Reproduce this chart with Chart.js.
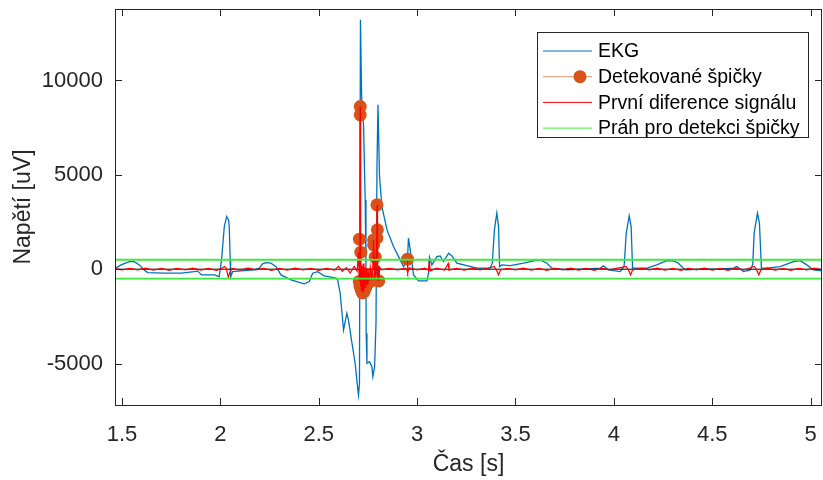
<!DOCTYPE html>
<html>
<head>
<meta charset="utf-8">
<script src="https://cdn.jsdelivr.net/npm/chart.js@4.4.0/dist/chart.umd.min.js"></script>
<style>
  html, body { margin: 0; padding: 0; background: #fff; }
</style>
</head>
<body>
<canvas id="graf" width="823" height="480"></canvas>
<script>
// EKG signal (time in s, voltage in uV)
const ekgTime = [1.461,1.495,1.537,1.562,1.588,1.613,1.630,1.715,1.800,1.867,
  1.884,1.904,1.969,1.994,2.006,2.020,2.032,2.042,2.045,2.050,
  2.052,2.062,2.105,2.172,2.198,2.214,2.232,2.257,2.283,2.308,
  2.359,2.426,2.452,2.469,2.494,2.528,2.562,2.587,2.596,2.609,
  2.626,2.643,2.651,2.669,2.685,2.697,2.702,2.707,2.712,2.718,
  2.728,2.736,2.740,2.741,2.745,2.758,2.770,2.775,2.784,2.791,
  2.796,2.801,2.809,2.821,2.847,2.880,2.914,2.931,2.951,2.956,
  2.965,2.982,3.007,3.050,3.058,3.063,3.075,3.101,3.117,3.134,
  3.160,3.177,3.202,3.253,3.304,3.371,3.382,3.393,3.405,3.414,
  3.419,3.431,3.473,3.541,3.592,3.626,3.660,3.685,3.761,3.863,
  3.930,3.947,3.973,4.032,4.052,4.063,4.078,4.088,4.095,4.117,
  4.168,4.218,4.269,4.303,4.328,4.362,4.438,4.523,4.608,4.625,
  4.659,4.693,4.706,4.713,4.730,4.740,4.750,4.777,4.845,4.913,
  4.947,4.981,5.014,5.063];
const ekgValue = [20,228,403,403,228,-37,-180,-212,-212,-127,
  -90,-302,-302,-392,493,2259,2789,2600,2259,493,
  -424,-127,-90,-37,53,281,350,318,138,-302,
  -567,-779,-657,-212,-127,-355,-424,-477,-567,-1273,
  -3218,-2333,-2688,-3923,-4984,-6224,-6665,-6044,13218,9151,
  7560,3674,138,-3393,-4984,-4899,-5164,-5694,-5164,-2863,
  5440,8711,4910,3319,2084,1198,493,138,493,1643,
  1023,-302,-620,-620,-212,636,228,668,705,403,
  848,705,318,191,53,53,318,2084,2969,2259,
  138,228,191,318,440,493,318,53,-37,16,
  53,175,-37,-127,138,1909,2826,2259,53,53,
  53,228,456,440,318,-37,0,0,53,138,
  -127,-37,228,1909,2969,2439,53,53,138,403,
  456,228,-37,-90];

// first difference of the signal
const diffTime = [1.464,1.50,1.54,1.58,1.62,1.66,1.70,1.74,1.78,1.82,1.86,1.90,1.94,1.98,
  2.005,2.020,2.030,2.040,2.050,2.060,2.10,2.14,2.18,2.22,2.26,2.30,2.34,2.38,2.42,2.46,2.50,2.54,2.58,
  2.60,2.62,2.64,2.66,2.68,2.695,2.702,2.705,2.709,2.7105,2.712,2.714,2.716,2.719,2.722,2.726,2.730,
  2.734,2.738,2.742,2.746,2.750,2.756,2.762,2.770,2.775,2.779,2.782,2.785,2.787,2.790,2.795,2.7965,
  2.798,2.800,2.803,2.805,2.810,2.82,2.86,2.90,2.94,2.949,2.951,2.953,2.96,3.00,3.04,3.058,3.062,
  3.066,3.10,3.14,3.158,3.162,3.20,3.24,3.28,3.32,3.36,3.392,3.404,3.414,3.424,3.46,3.50,3.54,3.58,
  3.62,3.66,3.70,3.74,3.78,3.82,3.86,3.90,3.94,3.98,4.02,4.062,4.075,4.085,4.095,4.14,4.18,4.22,
  4.26,4.30,4.34,4.38,4.42,4.46,4.50,4.54,4.58,4.62,4.66,4.714,4.727,4.737,4.747,4.78,4.82,4.86,
  4.90,4.94,4.98,5.02,5.058];
const diffValue = [30,-40,50,-30,60,-50,40,-60,50,-40,60,-50,40,-60,
  30,140,60,-420,-120,40,-50,60,-40,50,-60,40,-50,60,-40,50,-60,40,-50,
  150,-120,80,-200,150,-100,900,-300,-650,8620,-900,900,-1100,200,-1250,300,-1200,
  100,-1000,50,-800,60,-650,100,-600,200,1550,-200,-560,640,-300,1640,3410,
  2080,-600,200,-620,100,-40,50,-40,60,-50,530,-200,80,-40,50,-60,500,
  -100,60,-50,300,-50,40,-50,60,-40,50,150,-60,-300,-40,50,-40,60,-50,
  40,-60,50,-40,60,-50,40,-60,50,-40,60,150,-60,-300,-40,50,-40,60,
  -50,40,-60,50,-40,60,-50,40,-60,50,-40,150,-60,-300,-40,60,-50,40,
  -60,50,-40,60,-30];

// detected peaks (stem plot)
const peakTime = [2.706,2.707,2.710,2.711,2.711,2.714,2.716,2.722,2.730,2.738,2.746,2.756,
  2.770,2.779,2.779,2.785,2.787,2.795,2.796,2.798,2.800,2.805,2.951];
const peakValue = [-650,1590,-900,8620,8180,901,-1100,-1250,-1200,-1000,-800,-650,
  -600,1553,1288,-560,636,1643,3409,2084,-600,-620,530];
const stemBaseline = 0;

// detection threshold
const thresholdTime = [1.4644, 5.058];
const threshold = 500;

const xTicks = [1.5, 2, 2.5, 3, 3.5, 4, 4.5, 5];
const yTicks = [-5000, 0, 5000, 10000];
const xRange = [1.4644, 5.058];
const yRange = [-7195, 13786];

const FONT = "'Liberation Sans', Arial, sans-serif";
const AXIS = '#262626';

const pts = (xs, ys) => xs.map((x, i) => ({ x: x, y: ys[i] }));

const stemPlugin = {
  id: 'stems',
  beforeDatasetDraw(chart, args) {
    if (args.index !== 1) return;
    const { ctx, chartArea, scales } = chart;
    const y0 = scales.y.getPixelForValue(stemBaseline);
    ctx.save();
    ctx.strokeStyle = '#D95319';
    ctx.lineWidth = 1;
    peakTime.forEach((t, i) => {
      const px = scales.x.getPixelForValue(t);
      ctx.beginPath();
      ctx.moveTo(px, y0);
      ctx.lineTo(px, scales.y.getPixelForValue(peakValue[i]));
      ctx.stroke();
    });
    ctx.strokeStyle = '#000';
    ctx.beginPath();
    ctx.moveTo(chartArea.left, y0);
    ctx.lineTo(chartArea.right, y0);
    ctx.stroke();
    ctx.restore();
  }
};

const boxPlugin = {
  id: 'box',
  afterDatasetsDraw(chart) {
    const { ctx, chartArea: a, scales } = chart;
    const len = 7;
    ctx.save();
    ctx.strokeStyle = AXIS;
    ctx.lineWidth = 1;
    ctx.strokeRect(a.left + 0.5, a.top + 0.5, a.right - a.left - 1, a.bottom - a.top);
    ctx.beginPath();
    xTicks.forEach(v => {
      const px = Math.round(scales.x.getPixelForValue(v)) + 0.5;
      ctx.moveTo(px, a.bottom); ctx.lineTo(px, a.bottom - len);
      ctx.moveTo(px, a.top); ctx.lineTo(px, a.top + len);
    });
    yTicks.forEach(v => {
      const py = Math.round(scales.y.getPixelForValue(v)) + 0.5;
      ctx.moveTo(a.left, py); ctx.lineTo(a.left + len, py);
      ctx.moveTo(a.right, py); ctx.lineTo(a.right - len, py);
    });
    ctx.stroke();
    ctx.restore();
  }
};

const legendPlugin = {
  id: 'matlabLegend',
  afterDraw(chart) {
    const ctx = chart.ctx;
    const bx = 537, by = 32, bw = 271, bh = 105;
    ctx.save();
    ctx.fillStyle = '#fff';
    ctx.fillRect(bx, by, bw, bh);
    ctx.strokeStyle = AXIS;
    ctx.lineWidth = 1;
    ctx.strokeRect(bx + 0.5, by + 0.5, bw, bh);
    const items = chart.data.datasets.filter(d => !d.hideInLegend);
    ctx.font = '19.5px ' + FONT;
    ctx.textBaseline = 'middle';
    items.forEach((d, i) => {
      const cy = by + 19 + i * 25.7;
      ctx.strokeStyle = d.legendColor || d.borderColor;
      ctx.lineWidth = 1;
      ctx.beginPath();
      ctx.moveTo(543, cy); ctx.lineTo(592, cy);
      ctx.stroke();
      if (d.showLine === false) {
        ctx.fillStyle = d.backgroundColor;
        ctx.beginPath();
        ctx.arc(580, cy, 6.5, 0, Math.PI * 2);
        ctx.fill();
      }
      ctx.fillStyle = '#000';
      ctx.fillText(d.label, 598, cy + 1);
    });
    ctx.restore();
  }
};

new Chart(document.getElementById('graf').getContext('2d'), {
  type: 'line',
  data: {
    datasets: [
      {
        label: 'EKG',
        data: pts(ekgTime, ekgValue),
        borderColor: '#0072BD',
        borderWidth: 1.3,
        pointRadius: 0,
        order: 4
      },
      {
        label: 'Detekované špičky',
        data: pts(peakTime, peakValue),
        showLine: false,
        backgroundColor: '#D95319',
        borderColor: '#D95319',
        legendColor: '#E8946E',
        pointRadius: 6.5,
        pointBorderWidth: 0,
        order: 3
      },
      {
        label: 'První diference signálu',
        data: pts(diffTime, diffValue),
        borderColor: '#FF0000',
        borderWidth: 1.2,
        pointRadius: 0,
        order: 2
      },
      {
        label: 'Práh pro detekci špičky',
        data: pts(thresholdTime, thresholdTime.map(() => threshold)),
        borderColor: '#3CEB3C',
        borderWidth: 1.8,
        pointRadius: 0,
        order: 1
      },
      {
        label: 'Práh (záporný)',
        hideInLegend: true,
        data: pts(thresholdTime, thresholdTime.map(() => -threshold)),
        borderColor: '#3CEB3C',
        borderWidth: 1.8,
        pointRadius: 0,
        order: 1
      }
    ]
  },
  options: {
    responsive: false,
    animation: false,
    layout: { autoPadding: false, padding: { top: 9, right: 1, left: 0, bottom: 0 } },
    plugins: {
      legend: { display: false },
      tooltip: { enabled: false }
    },
    scales: {
      x: {
        type: 'linear',
        min: xRange[0],
        max: xRange[1],
        afterBuildTicks: s => { s.ticks = xTicks.map(v => ({ value: v })); },
        afterFit: s => { s.height = 75; s.paddingLeft = 0; s.paddingRight = 0; },
        grid: { display: false },
        border: { display: false },
        ticks: {
          callback: v => String(v),
          font: { family: FONT, size: 22 },
          color: AXIS,
          padding: 9,
          maxRotation: 0
        },
        title: {
          display: true,
          text: 'Čas [s]',
          font: { family: FONT, size: 23 },
          color: AXIS,
          padding: { top: 0, bottom: 2 }
        }
      },
      y: {
        type: 'linear',
        min: yRange[0],
        max: yRange[1],
        afterBuildTicks: s => { s.ticks = yTicks.map(v => ({ value: v })); },
        afterFit: s => { s.width = 115; s.paddingTop = 0; s.paddingBottom = 0; },
        grid: { display: false, drawTicks: false },
        border: { display: false },
        ticks: {
          callback: v => String(v),
          font: { family: FONT, size: 22 },
          color: AXIS,
          padding: 12
        },
        title: {
          display: true,
          text: 'Napětí [uV]',
          font: { family: FONT, size: 23 },
          color: AXIS,
          padding: { top: 10, bottom: 0 }
        }
      }
    }
  },
  plugins: [stemPlugin, boxPlugin, legendPlugin]
});
</script>
</body>
</html>
